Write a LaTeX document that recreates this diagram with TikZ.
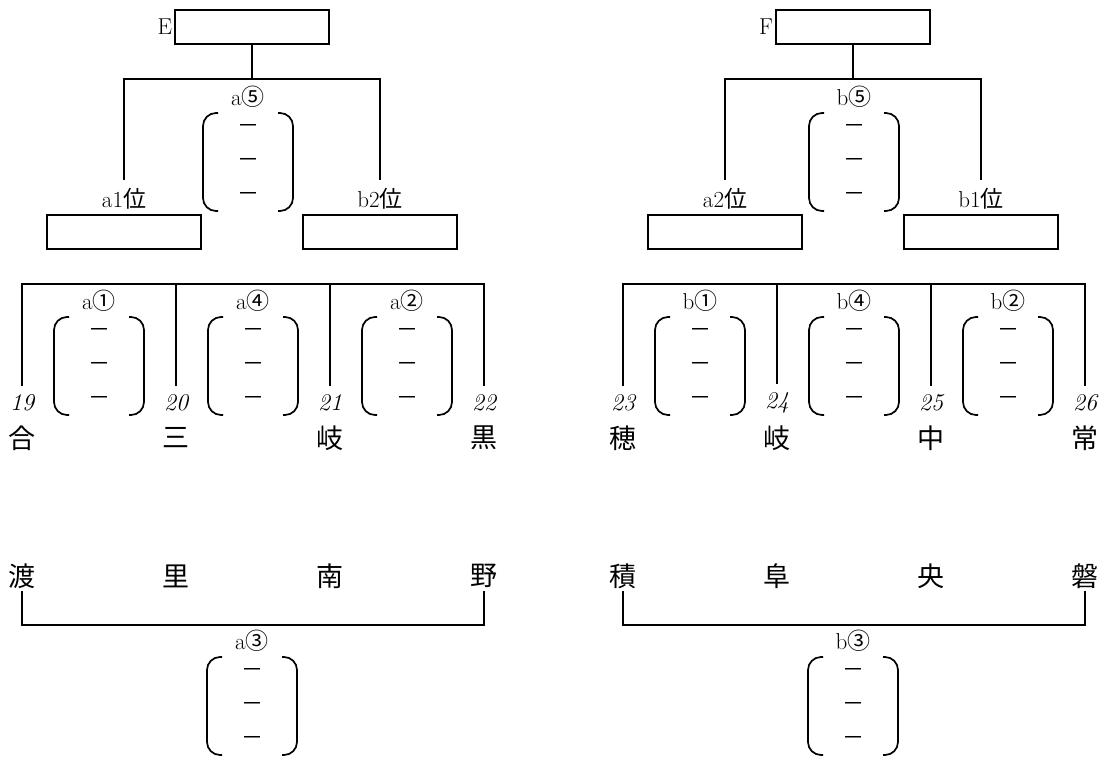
\documentclass[tikz,border=0pt]{standalone}
\usepackage{fontspec}
\newfontfamily\cjk{Noto Sans CJK JP}
\usetikzlibrary{positioning}

\tikzset{
  wire/.style={line width=1.7pt},
  slot/.style={draw, line width=1.7pt, minimum width=154pt, minimum height=34pt, inner sep=0pt},
  tag/.style={font=\fontsize{23}{25}\selectfont, inner sep=1pt},
  rank/.style={tag, outer sep=7pt},
  num/.style={font=\fontsize{24}{26}\selectfont\itshape, inner sep=1pt, outer sep=8pt},
  place/.style={font=\cjk\fontsize{27}{29}\selectfont, inner sep=1pt, outer sep=2pt},
  blank/.style={font=\cjk\fontsize{22}{24}\selectfont, inner sep=0pt},
}

% bracket with three blanks: name, centre x, top y, label
\newcommand{\choicegroup}[4]{%
  \node[tag] (#1) at (#2,{#3-16}) {#4};
  \draw[wire, rounded corners=13pt] ({#2-30},#3) -- ({#2-45},#3) -- ({#2-45},{#3+98}) -- ({#2-30},{#3+98});
  \draw[wire, rounded corners=13pt] ({#2+30},#3) -- ({#2+45},#3) -- ({#2+45},{#3+98}) -- ({#2+30},{#3+98});
  \node[blank] (#1-1) at (#2,{#3+16}) {－};
  \node[blank] (#1-2) at (#2,{#3+50}) {－};
  \node[blank] (#1-3) at (#2,{#3+84}) {－};
}

\begin{document}
\begin{tikzpicture}[x=1pt, y=-1pt]
    \path[use as bounding box] (0,0) rectangle (1102,760);

    % left tree
    \node[slot] (topE) at (252,27) {};
    \node[tag, left=1pt of topE] (lblE) {E};
    \node[rank] (rA1) at (124,199) {a1{\cjk 位}};
    \node[rank] (rB2) at (380,199) {b2{\cjk 位}};
    \node[slot] (boxA1) at (124,232) {};
    \node[slot] (boxB2) at (380,232) {};
    \draw[wire] (topE.south) -- (topE.south |- 0,79) coordinate (jE);
    \draw[wire] (rA1.north) |- (jE) -| (rB2.north);
    \choicegroup{cA5}{248}{113}{a{\cjk ⑤}}

    % second row
    \foreach \n/\x in {19/22,20/176,21/330,22/484}
        \node[num] (n\n) at (\x,403) {\n};
    \node[place] (kA1) at (22,438) {合};
    \node[place] (kA2) at (176,438) {三};
    \node[place] (kA3) at (330,438) {岐};
    \node[place] (kA4) at (484,438) {黒};
    \draw[wire] (n19.north) |- (n22.north |- 0,284) -- (n22.north);
    \draw[wire] (n20.north) -- (n20.north |- 0,284);
    \draw[wire] (n21.north) -- (n21.north |- 0,284);
    \choicegroup{cA1}{99}{317}{a{\cjk ①}}
    \choicegroup{cA4}{253}{317}{a{\cjk ④}}
    \choicegroup{cA2}{407}{317}{a{\cjk ②}}

    % third row
    \node[place] (wA1) at (22,576) {渡};
    \node[place] (wA2) at (176,576) {里};
    \node[place] (wA3) at (330,576) {南};
    \node[place] (wA4) at (484,576) {野};
    \draw[wire] (wA1.south) |- (wA4.south |- 0,625) -- (wA4.south);
    \choicegroup{cA3}{252}{657}{a{\cjk ③}}

    % right tree
    \begin{scope}[xshift=601pt]
    \node[slot] (topF) at (252,27) {};
    \node[tag, left=1pt of topF] (lblF) {F};
    \node[rank] (rA2) at (124,199) {a2{\cjk 位}};
    \node[rank] (rB1) at (380,199) {b1{\cjk 位}};
    \node[slot] (boxA2) at (124,232) {};
    \node[slot] (boxB1) at (380,232) {};
    \draw[wire] (topF.south) -- (topF.south |- 0,79) coordinate (jF);
    \draw[wire] (rA2.north) |- (jF) -| (rB1.north);
    \choicegroup{cB5}{253}{113}{b{\cjk ⑤}}

    % second row
    \foreach \n/\x in {23/22,24/176,25/330,26/484}
        \node[num] (n\n) at (\x,403) {\n};
    \node[place] (kB1) at (22,438) {穂};
    \node[place] (kB2) at (176,438) {岐};
    \node[place] (kB3) at (330,438) {中};
    \node[place] (kB4) at (484,438) {常};
    \draw[wire] (n23.north) |- (n26.north |- 0,284) -- (n26.north);
    \draw[wire] (n24.north) -- (n24.north |- 0,284);
    \draw[wire] (n25.north) -- (n25.north |- 0,284);
    \choicegroup{cB1}{99}{317}{b{\cjk ①}}
    \choicegroup{cB4}{253}{317}{b{\cjk ④}}
    \choicegroup{cB2}{407}{317}{b{\cjk ②}}

    % third row
    \node[place] (wB1) at (22,576) {積};
    \node[place] (wB2) at (176,576) {阜};
    \node[place] (wB3) at (330,576) {央};
    \node[place] (wB4) at (484,576) {磐};
    \draw[wire] (wB1.south) |- (wB4.south |- 0,625) -- (wB4.south);
    \choicegroup{cB3}{252}{657}{b{\cjk ③}}
    \end{scope}
\end{tikzpicture}
\end{document}
